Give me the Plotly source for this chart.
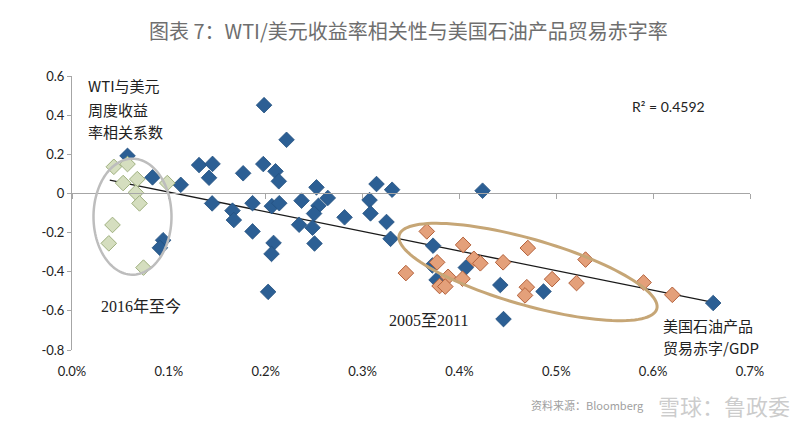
import numpy as np
import plotly.graph_objects as go

# ---- data (x: US oil product trade deficit / GDP, in %; y: WTI vs USD weekly return correlation)
blue_x = [0.0573, 0.0831, 0.1123, 0.1312, 0.1451, 0.1415, 0.1767, 0.1975, 0.1983, 0.2215,
          0.2101, 0.2135, 0.2524, 0.3144, 0.3305, 0.4239, 0.1447, 0.1657, 0.1671, 0.1864,
          0.1864, 0.2063, 0.2140, 0.2370, 0.2641, 0.2545, 0.2499, 0.2814, 0.2345, 0.2483,
          0.2081, 0.2060, 0.2504, 0.2025, 0.3072, 0.3082, 0.3247, 0.3289, 0.3728, 0.3720,
          0.3764, 0.4066, 0.4422, 0.4455, 0.4868, 0.6620, 0.0941, 0.0907]
blue_y = [0.192, 0.082, 0.044, 0.145, 0.151, 0.080, 0.103, 0.150, 0.451, 0.274,
          0.113, 0.062, 0.031, 0.048, 0.019, 0.014, -0.051, -0.088, -0.136, -0.050,
          -0.194, -0.065, -0.050, -0.037, -0.023, -0.063, -0.103, -0.122, -0.160, -0.175,
          -0.253, -0.309, -0.256, -0.503, -0.034, -0.102, -0.146, -0.232, -0.267, -0.368,
          -0.442, -0.379, -0.468, -0.642, -0.501, -0.560, -0.239, -0.278]

green_x = [0.0432, 0.0573, 0.0528, 0.0674, 0.0659, 0.0697, 0.0984, 0.0418, 0.0380, 0.0738]
green_y = [0.136, 0.150, 0.053, 0.073, 0.004, -0.051, 0.053, -0.161, -0.255, -0.379]

orange_x = [0.3663, 0.3447, 0.3770, 0.3883, 0.3795, 0.3854, 0.4038, 0.4032, 0.4149, 0.4216,
            0.4451, 0.4706, 0.4696, 0.4677, 0.4957, 0.5209, 0.5302, 0.5901, 0.6198]
orange_y = [-0.194, -0.407, -0.352, -0.426, -0.473, -0.476, -0.263, -0.436, -0.334, -0.357,
            -0.352, -0.279, -0.479, -0.521, -0.438, -0.458, -0.338, -0.455, -0.518]

trend_x = [0.039, 0.662]
trend_y = [0.068, -0.557]

x_ticks = [0.0, 0.1, 0.2, 0.3, 0.4, 0.5, 0.6, 0.7]
x_ticklabels = ["0.0%", "0.1%", "0.2%", "0.3%", "0.4%", "0.5%", "0.6%", "0.7%"]
y_ticks = [0.6, 0.4, 0.2, 0.0, -0.2, -0.4, -0.6, -0.8]
y_ticklabels = ["0.6", "0.4", "0.2", "0", "-0.2", "-0.4", "-0.6", "-0.8"]

title_text = "图表 7：WTI/美元收益率相关性与美国石油产品贸易赤字率"
r2_text = "R² = 0.4592"

# ---- layout geometry
W, H = 800, 430
ML, MR, MT, MB = 72, 50, 76, 80
XR = [0.0, 0.7]
YR = [-0.8, 0.6]
pw = W - ML - MR
ph = H - MT - MB
xu = (XR[1] - XR[0]) / pw   # data units per px
yu = (YR[1] - YR[0]) / ph


def ellipse_path(cx_px, cy_px, a, b, ang_deg, n=120):
    t = np.linspace(0, 2 * np.pi, n)
    th = np.deg2rad(ang_deg)
    dx = a * np.cos(t) * np.cos(th) - b * np.sin(t) * np.sin(th)
    dy = a * np.cos(t) * np.sin(th) + b * np.sin(t) * np.cos(th)
    px = cx_px + dx
    py = cy_px + dy
    xs = XR[0] + (px - ML) * xu
    ys = YR[1] - (py - MT) * yu
    pts = [f"{x:.5f},{y:.5f}" for x, y in zip(xs, ys)]
    return "M " + " L ".join(pts) + " Z"


fig = go.Figure()

fig.add_trace(go.Scatter(
    x=trend_x, y=trend_y, mode="lines",
    line=dict(color="#1a1a1a", width=1.3), hoverinfo="skip", showlegend=False))

fig.add_trace(go.Scatter(
    x=blue_x, y=blue_y, mode="markers",
    marker=dict(symbol="diamond", size=12, color="#2C5F94",
                line=dict(color="#23507f", width=0.8)),
    showlegend=False))

fig.add_trace(go.Scatter(
    x=green_x, y=green_y, mode="markers",
    marker=dict(symbol="diamond", size=12, color="#D5DEBF",
                line=dict(color="#9FB07F", width=1)),
    showlegend=False))

fig.add_trace(go.Scatter(
    x=orange_x, y=orange_y, mode="markers",
    marker=dict(symbol="diamond", size=12, color="#E4A07A",
                line=dict(color="#B3603A", width=1)),
    showlegend=False))

# shadow x-axis carrying the line and tick marks at y = 0
fig.add_trace(go.Scatter(x=[None], y=[None], xaxis="x2", showlegend=False))

shapes = [
    dict(type="path", xref="x", yref="y",
         path=ellipse_path(132.5, 216.7, 39, 58, 0),
         line=dict(color="#BDBDBD", width=2.5)),
    dict(type="path", xref="x", yref="y",
         path=ellipse_path(528, 272, 134, 33, 16),
         line=dict(color="#C6A676", width=3)),
]

cjk = "Noto Sans CJK SC"
serif = "Liberation Serif, Noto Sans CJK SC"


def px2x(px):
    return XR[0] + (px - ML) * xu


def py2y(py):
    return YR[1] - (py - MT) * yu


def ppx(px):
    return (px - ML) / pw


def ppy(py):
    return (H - MB - py) / ph


annotations = []
for txt, cy in [("WTI与美元", 85), ("周度收益", 109), ("率相关系数", 131)]:
    annotations.append(dict(x=px2x(86), y=py2y(cy), xref="x", yref="y", text=txt,
                            showarrow=False, xanchor="left", yanchor="middle",
                            font=dict(family=cjk, size=15, color="#222222")))
annotations += [
    dict(x=px2x(668), y=py2y(106), xref="x", yref="y", text=r2_text, showarrow=False,
         xanchor="center", yanchor="middle",
         font=dict(family="Lato, Open Sans", size=14, color="#222222")),
    dict(x=px2x(99), y=py2y(306), xref="x", yref="y", text="2016年至今", showarrow=False,
         xanchor="left", yanchor="middle", font=dict(family=serif, size=16, color="#222222")),
    dict(x=px2x(387), y=py2y(320), xref="x", yref="y", text="2005至2011", showarrow=False,
         xanchor="left", yanchor="middle", font=dict(family=serif, size=16, color="#222222")),
    dict(x=px2x(661), y=py2y(325), xref="x", yref="y", text="美国石油产品", showarrow=False,
         xanchor="left", yanchor="middle", font=dict(family=cjk, size=15, color="#222222")),
    dict(x=px2x(661), y=py2y(347), xref="x", yref="y", text="贸易赤字/GDP", showarrow=False,
         xanchor="left", yanchor="middle", font=dict(family=cjk, size=15, color="#222222")),
    dict(x=ppx(408), y=ppy(30), xref="paper", yref="paper", text=title_text, showarrow=False,
         xanchor="center", yanchor="middle",
         font=dict(family=cjk, size=20, color="#6E6E6E")),
    dict(x=ppx(646), y=ppy(405), xref="paper", yref="paper", text="资料来源：Bloomberg",
         showarrow=False, xanchor="right", yanchor="middle",
         font=dict(family=cjk, size=11, color="#A0A0A0")),
    dict(x=ppx(792), y=ppy(405), xref="paper", yref="paper", text="雪球：鲁政委",
         showarrow=False, xanchor="right", yanchor="middle",
         font=dict(family=cjk, size=22, color="rgba(170,170,170,0.6)")),
]

zero_pos = (0 - YR[0]) / (YR[1] - YR[0])

fig.update_layout(
    width=W, height=H,
    margin=dict(l=ML, r=MR, t=MT, b=MB),
    paper_bgcolor="white", plot_bgcolor="white",
    showlegend=False,
    shapes=shapes,
    annotations=annotations,
    xaxis=dict(range=XR, tickvals=x_ticks, ticktext=x_ticklabels,
               showgrid=False, zeroline=False, showline=False,
               ticks="outside", ticklen=9, tickcolor="rgba(0,0,0,0)",
               tickfont=dict(family="Lato, Open Sans", size=13, color="#222222")),
    xaxis2=dict(range=XR, overlaying="x", anchor="free", position=zero_pos,
                side="bottom", tickvals=x_ticks, showticklabels=False,
                showgrid=False, zeroline=False, showline=True, linecolor="#A6A6A6",
                linewidth=1, ticks="outside", ticklen=5, tickcolor="#A6A6A6"),
    yaxis=dict(range=YR, tickvals=y_ticks, ticktext=y_ticklabels,
               showgrid=False, zeroline=False, showline=True, linecolor="#A6A6A6",
               linewidth=1, ticks="outside", ticklen=4, tickcolor="#A6A6A6",
               tickfont=dict(family="Lato, Open Sans", size=13, color="#222222")),
)

fig.write_html("out.html")
